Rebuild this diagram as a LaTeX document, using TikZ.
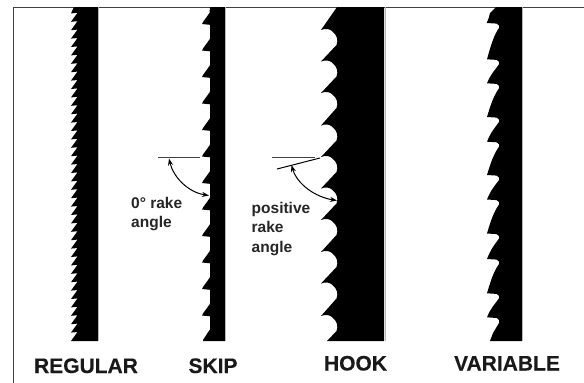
\documentclass[tikz,border=0pt]{standalone}
\usepackage{fontspec}
\setmainfont{Liberation Sans}
\usetikzlibrary{arrows.meta}
\definecolor{linegray}{gray}{0.25}
\newfontfamily\heavyface[FakeBold=0.25]{Liberation Sans Bold}
\tikzset{
  blade/.style={fill=black,draw=none},
  edge line/.style={draw=gray!55,line width=0.7pt},
  frame line/.style={draw=linegray,line width=0.9pt},
  rake line/.style={draw=linegray,line width=1pt},
  angle arrow/.style={draw=black,line width=1pt,{Stealth[length=7pt,width=5pt]}-{Stealth[length=7pt,width=5pt]}},
  note/.style={font=\bfseries\fontsize{15.5}{19.3}\selectfont,align=left,anchor=north west,inner sep=0pt,text=black!85},
  title/.style={font=\heavyface\fontsize{21}{24}\selectfont,anchor=base,inner sep=0pt,text=black!90}
}
\begin{document}
\begin{tikzpicture}[x=1pt,y=-1pt]
\useasboundingbox (0,0) rectangle (584,383);
\fill[white] (0,0) rectangle (584,383);
% frame
\coordinate (fTL) at (13,7);
\coordinate (fTR) at (584,7);
\coordinate (fBL) at (13,383);
\draw[frame line] (fBL) -- (fTL) -- (fTR);
% REGULAR
\fill[blade] (98,7) -- (74,7) foreach \k in {0,...,39} { -- (71,{13.4+8.4*\k}) -- (77.5,{13.4+8.4*\k-0.6}) } -- (71,341) -- (98,341) -- cycle;
\draw[edge line] (98.6,7) -- (98.6,341);
% SKIP
\fill[blade] (225,7) -- (210,7) foreach \y in {24,50.5,77,103.5,130,156.5,183,209.5,236,262.5,289,315.5} { -- (209.5,{\y-11}) -- (203,{\y-2}) -- (202,\y) -- (210,{\y+0.8}) -- (210,{\y+14}) } -- (209.5,330) -- (203,340) -- (203,341) -- (225,341) -- cycle;
\draw[edge line] (225.6,7) -- (225.6,341);
% HOOK
\fill[blade] (384,7) -- (337,7) foreach \y in {30,61.5,93,125.5,157,188.5,220,252,283.5,316} { -- (321,\y) .. controls (325,{\y-1.5}) and (329,{\y-1.5}) .. (332,{\y+1}) .. controls (337,{\y+5}) and (338.5,{\y+10}) .. (336.5,{\y+15}) } -- (327,341) -- (384,341) -- cycle;
\draw[edge line] (385,7) -- (385,341);
% VARIABLE
\fill[blade] (522,7) -- (496,7) -- (490,13) -- (488.7,18) -- (486.7,23)
 foreach \y/\m/\n in {23/492/59.3, 59.3/493/83.3, 83.3/492/117, 117/492.7/141.7, 141.7/492/175, 175/492/199.5, 199.5/492.5/233.5, 233.5/491.5/259, 259/492.5/293.3, 293.3/491.5/317.3} {
   -- (496.7,{\y+0.6}) .. controls (499,{\y+1.5}) and (500,{\y+3.5}) .. (499,{\y+5}) .. controls (494,{\y+12}) and (491,{\y+(\n-\y)*0.6}) .. (487,\n) }
 -- (496.7,318) .. controls (499,319) and (500,321) .. (499,323) -- (493,333) -- (490,341) -- (522,341) -- cycle;
\draw[edge line] (522.6,7) -- (522.6,341);
% skip rake
\coordinate (sA) at (158,157);
\coordinate (sB) at (200,157);
\draw[rake line] (sA) -- (sB);
\coordinate (sC) at (169,158.5);
\coordinate (sD) at (209,195.5);
\draw[angle arrow] (sC) .. controls (173,176) and (187,192) .. (sD);
% hook rake
\coordinate (hA) at (272,157.5);
\coordinate (hB) at (315,157.5);
\coordinate (hC) at (277,169);
\coordinate (hD) at (320,158);
\draw[rake line] (hA) -- (hB);
\draw[draw=black,line width=1pt] (hC) -- (hD);
\coordinate (hE) at (291.5,165);
\coordinate (hF) at (337,200.5);
\draw[angle arrow] (hE) .. controls (297,184) and (315,197) .. (hF);
% notes
\node[note] (n0) at (131,197) {0° rake\\angle};
\node[note] (n1) at (251.5,202) {positive\\rake\\angle};
% titles
\node[title] (tR) at (86,373) {REGULAR};
\node[title] (tS) at (213,373) {SKIP};
\node[title] (tH) at (355.5,370.5) {HOOK};
\node[title] (tV) at (507,370.5) {VARIABLE};
\end{tikzpicture}
\end{document}
